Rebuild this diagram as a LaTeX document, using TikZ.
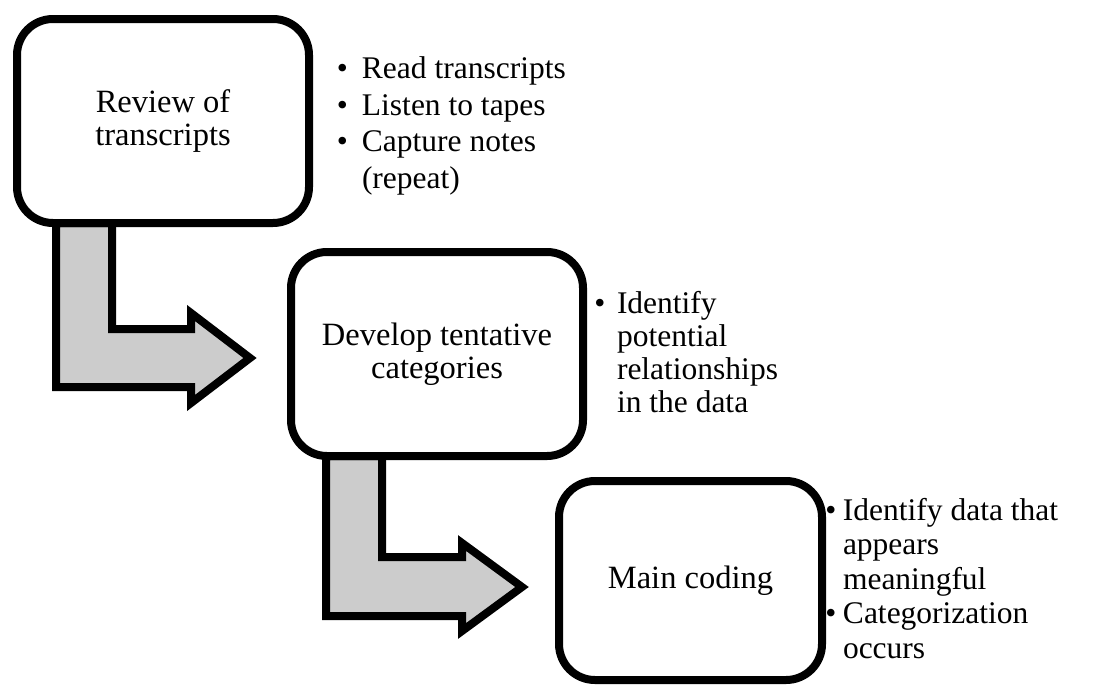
\documentclass[tikz,border=0pt]{standalone}
\usepackage{fontspec}
\setmainfont{Liberation Serif}
\usetikzlibrary{calc}

\definecolor{arrowgray}{RGB}{204,204,204}

% a top-aligned block of note lines; #1 = line spacing, #2 = lines
\newcommand{\itemtext}[2]{%
  \parbox[t]{260pt}{\raggedright\fontsize{31.5}{#1}\selectfont #2}}
% a hanging bullet placed #1 to the left of the item text
\newcommand{\bul}[1]{\leavevmode\llap{\textbullet\hspace{#1}}}

\begin{document}
\begin{tikzpicture}[x=1pt,y=-1pt,
  stage/.style={draw=black, line width=8pt, fill=white, rounded corners=36pt,
    outer sep=0pt, inner sep=4pt, align=center,
    font=\fontsize{32.5}{33}\selectfont},
  bentarrow/.style={draw=black, line width=8pt, fill=arrowgray, line join=miter,
    miter limit=10},
  notes/.style={inner sep=0pt, outer sep=0pt, anchor=base west}]
  \useasboundingbox (0,0) rectangle (1107,688);

  % corner points of the three stages
  \path (17,19) coordinate (b1nw) (309,223) coordinate (b1se);
  \path (291,252) coordinate (b2nw) (583,456) coordinate (b2se);
  \path (559,481) coordinate (b3nw) (822,680) coordinate (b3se);

  % invisible placeholders that fix the stage positions
  \path ($(b1nw)!0.5!(b1se)$) coordinate (c1)
        ($(b2nw)!0.5!(b2se)$) coordinate (c2)
        ($(b3nw)!0.5!(b3se)$) coordinate (c3);
  \node[minimum width=292pt, minimum height=204pt, outer sep=0pt, inner sep=0pt] (b1) at (c1) {};
  \node[minimum width=292pt, minimum height=204pt, outer sep=0pt, inner sep=0pt] (b2) at (c2) {};

  % bent arrows from one stage to the next, drawn first and covered by the boxes
  \draw[bentarrow] ($(b1.south west)+(39,0)$) coordinate (a1)
     -- ++(0,164) -- ++(135,0) -- ++(0,16) -- ++(59,-45) -- ++(-59,-45)
     -- ++(0,16) -- ++(-79,0) -- ++(0,-106) -- cycle;
  \draw[bentarrow] ($(b2.south west)+(35,0)$) coordinate (a2)
     -- ++(0,160) -- ++(136,0) -- ++(0,15) -- ++(60,-44) -- ++(-60,-44)
     -- ++(0,14) -- ++(-80,0) -- ++(0,-101) -- cycle;

  % the stages with their titles
  \node[stage, minimum width=292pt, minimum height=204pt] (s1) at (c1) {Review of\\transcripts};
  \node[stage, minimum width=292pt, minimum height=204pt] (s2) at (c2) {Develop tentative\\categories};
  \node[stage, minimum width=263pt, minimum height=199pt] (s3) at (c3) {Main coding};

  % bullet notes beside each stage
  \node[notes] (n1) at (362,78.5) {\itemtext{36.7pt}{%
    \bul{14pt}Read transcripts\\
    \bul{14pt}Listen to tapes\\
    \bul{14pt}Capture notes\\(repeat)}};
  \node[notes] (n2) at (617,313) {\itemtext{33.1pt}{%
    \bul{11.5pt}Identify\\potential\\relationships\\in the data}};
  \node[notes] (n3) at (843,520) {\itemtext{34.5pt}{%
    \bul{6.5pt}Identify data that\\appears\\meaningful\\
    \bul{6.5pt}Categorization\\occurs}};
\end{tikzpicture}
\end{document}
